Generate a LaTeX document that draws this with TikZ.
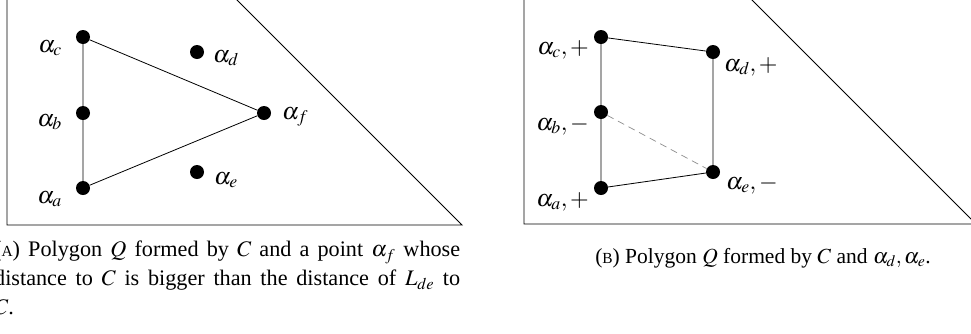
\documentclass[tikz,border=0pt]{standalone}
\usepackage{mathptmx}
\usepackage{fontspec}
\setmainfont{Liberation Serif}
\usetikzlibrary{calc}
\newcommand{\fakesc}[1]{{\fontsize{15.4}{18}\selectfont #1}}
\tikzset{
  dot/.style={circle,fill=black,inner sep=0pt,minimum size=14pt},
  edge/.style={draw=black,line width=0.8pt},
  dashedge/.style={draw=black!45,line width=0.7pt,dash pattern=on 7pt off 5pt},
  frame/.style={draw=black,line width=0.9pt},
  lbl/.style={inner sep=0pt,font=\fontsize{24}{28}\selectfont},
  captxt/.style={inner sep=0pt,font=\fontsize{21.5}{29}\selectfont},
  captxtA/.style={inner sep=0pt,font=\fontsize{22.2}{29}\selectfont}
}
\begin{document}
\begin{tikzpicture}[x=1pt,y=-1pt]
\useasboundingbox (0,0) rectangle (971,333);
% ---- panel A ----
\draw[frame] (7,-5) -- (7,225) -- (462,225) -- (232,-5);
\node[dot] (Ac) at (83,37) {};
\node[dot] (Ab) at (83,113) {};
\node[dot] (Aa) at (83,188) {};
\node[dot] (Ad) at (197,52) {};
\node[dot] (Ae) at (197,172) {};
\node[dot] (Af) at (264,113) {};
\draw[edge] (Ac) -- (Ab) -- (Aa) -- (Af) -- (Ac);
\node[lbl,anchor=base east] (lAc) at (62,52) {$\alpha_c$};
\node[lbl,anchor=base east] (lAb) at (62,126) {$\alpha_b$};
\node[lbl,anchor=base east] (lAa) at (62,203) {$\alpha_a$};
\node[lbl,anchor=base west] (lAd) at (213,62) {$\alpha_d$};
\node[lbl,anchor=base west] (lAe) at (214,184) {$\alpha_e$};
\node[lbl,anchor=base west] (lAf) at (282,119) {$\alpha_f$};
% ---- panel B ----
\draw[frame] (524,-5) -- (524,224) -- (976,224) -- (747,-5);
\node[dot] (Bc) at (601,37) {};
\node[dot] (Bb) at (601,112) {};
\node[dot] (Ba) at (601,188) {};
\node[dot] (Bd) at (713,52) {};
\node[dot] (Be) at (713,172) {};
\draw[edge] (Bc) -- (Bb) -- (Ba) -- (Be) -- (Bd) -- (Bc);
\draw[dashedge] (Bb) -- (Be);
\node[lbl,anchor=base east] (lBc) at (589,54) {$\alpha_c,+$};
\node[lbl,anchor=base east] (lBb) at (589,130) {$\alpha_b,-$};
\node[lbl,anchor=base east] (lBa) at (589,206) {$\alpha_a,+$};
\node[lbl,anchor=base west] (lBd) at (724,71) {$\alpha_d,+$};
\node[lbl,anchor=base west] (lBe) at (726,189) {$\alpha_e,-$};
% ---- captions ----
\node[captxtA,anchor=north west,text width=466pt,align=justify] (capA) at (-6,241)
  {(\fakesc{A}) Polygon $Q$ formed by $C$ and a point $\alpha_f$ whose\linebreak distance to $C$ is bigger than the distance of $L_{de}$ to\linebreak $C$.};
\node[captxt,anchor=base] (capB) at (763,263)
  {(\fakesc{B}) Polygon $Q$ formed by $C$ and $\alpha_d,\alpha_e$.};
\end{tikzpicture}
\end{document}
